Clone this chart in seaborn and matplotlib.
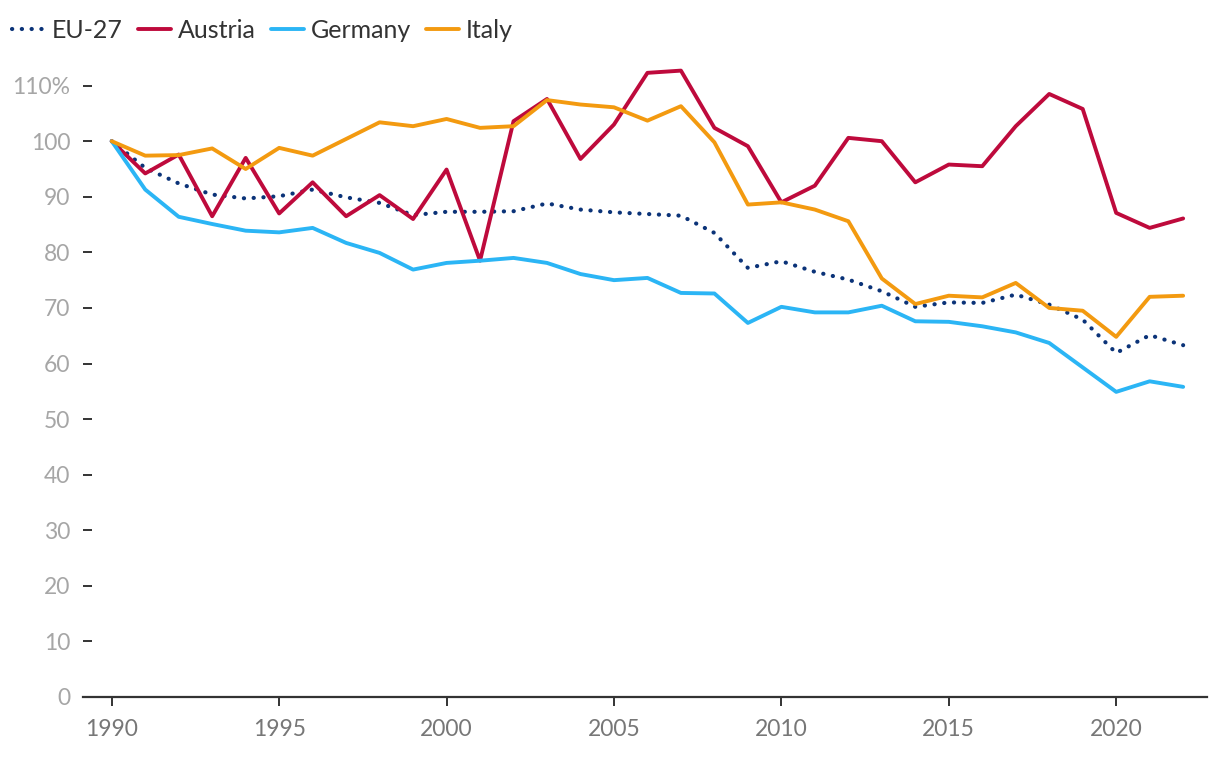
import matplotlib
matplotlib.use("Agg")
import matplotlib.pyplot as plt
import seaborn as sns
import pandas as pd

years = list(range(1990, 2023))
eu27 = [100, 95.2, 92.4, 90.4, 89.7, 90.1, 91.3, 89.9, 88.9, 86.7, 87.3,
        87.3, 87.4, 88.8, 87.7, 87.2, 86.9, 86.6, 83.5, 77.2, 78.4,
        76.5, 75.1, 73.0, 70.2, 71.0, 70.9, 72.4, 70.6, 67.9, 61.9, 65.1, 63.3]
austria = [100, 94.2, 97.6, 86.5, 97.0, 87.0, 92.6, 86.5, 90.3, 86.0, 94.9,
           78.5, 103.6, 107.6, 96.8, 103.0, 112.3, 112.7, 102.4, 99.1, 89.0,
           92.0, 100.6, 100.0, 92.6, 95.8, 95.5, 102.7, 108.5, 105.8, 87.1, 84.4, 86.1]
germany = [100, 91.3, 86.4, 85.1, 83.9, 83.6, 84.4, 81.7, 79.9, 76.9, 78.1,
           78.5, 79.0, 78.1, 76.1, 75.0, 75.4, 72.7, 72.6, 67.3, 70.2,
           69.2, 69.2, 70.4, 67.6, 67.5, 66.7, 65.6, 63.7, 59.3, 54.9, 56.8, 55.8]
italy = [100, 97.4, 97.5, 98.7, 95.0, 98.8, 97.4, 100.4, 103.4, 102.7, 104.0,
         102.4, 102.7, 107.4, 106.6, 106.1, 103.7, 106.3, 99.8, 88.6, 89.0,
         87.7, 85.6, 75.3, 70.7, 72.2, 71.9, 74.5, 70.0, 69.5, 64.8, 72.0, 72.2]

series_names = ["EU-27", "Austria", "Germany", "Italy"]
series_values = [eu27, austria, germany, italy]
colors = {"EU-27": "#0B3378", "Austria": "#BE0A3C", "Germany": "#2BB5F5", "Italy": "#F39A10"}
y_ticks = list(range(0, 120, 10))
y_tick_labels = [str(v) for v in y_ticks[:-1]] + ["110%"]
x_ticks = [1990, 1995, 2000, 2005, 2010, 2015, 2020]

rows = []
for name, vals in zip(series_names, series_values):
    for y, v in zip(years, vals):
        rows.append({"year": y, "value": v, "series": name})
df = pd.DataFrame(rows)

sns.set_theme(style="white")
plt.rcParams["font.family"] = ["Lato", "DejaVu Sans"]
plt.rcParams["lines.dash_capstyle"] = "round"
plt.rcParams["lines.solid_capstyle"] = "round"

fig = plt.figure(figsize=(12.2, 7.6), dpi=100)
ax = fig.add_axes([0.068, 0.0829, 0.921, 0.841])

dot = (0.05, 2.3)
sns.lineplot(data=df, x="year", y="value", hue="series", style="series",
             hue_order=series_names, style_order=series_names,
             palette=colors,
             dashes={"EU-27": dot, "Austria": "", "Germany": "", "Italy": ""},
             linewidth=2.8, ax=ax, legend=False)
for ln in ax.get_lines():
    if ln.get_linestyle() not in ("-", "solid"):
        ln.set_linewidth(3.0)

ax.set_xlim(1989.14, 2022.7)
ax.set_ylim(0, 115)
ax.set_xticks(x_ticks)
ax.set_xticklabels([str(x) for x in x_ticks])
ax.set_yticks(y_ticks)
ax.set_yticklabels(y_tick_labels)
ax.set_xlabel("")
ax.set_ylabel("")

for s in ["top", "right", "left"]:
    ax.spines[s].set_visible(False)
ax.spines["bottom"].set_color("#333333")
ax.spines["bottom"].set_linewidth(1.6)

ax.tick_params(axis="x", direction="out", length=6.5, width=1.4, color="#333333",
               labelsize=16.5, labelcolor="#777777", pad=9, bottom=True)
ax.tick_params(axis="y", direction="in", length=6.5, width=1.4, color="#333333",
               labelsize=16.5, labelcolor="#A6A6A6", pad=9, left=True)
ax.grid(False)

handles = []
for name in series_names:
    ls = (0, dot) if name == "EU-27" else "-"
    h, = ax.plot([], [], color=colors[name], lw=3.0 if name == "EU-27" else 2.8,
                 linestyle=ls, label=name)
    handles.append(h)
leg = fig.legend(handles=handles, labels=series_names, loc="upper left",
                 bbox_to_anchor=(0.004, 0.985), ncol=4, frameon=False,
                 fontsize=18, handlelength=1.3, handletextpad=0.28,
                 columnspacing=0.62, borderaxespad=0.0, borderpad=0.3)
for t in leg.get_texts():
    t.set_color("#333333")

fig.savefig("out.png", dpi=100)
